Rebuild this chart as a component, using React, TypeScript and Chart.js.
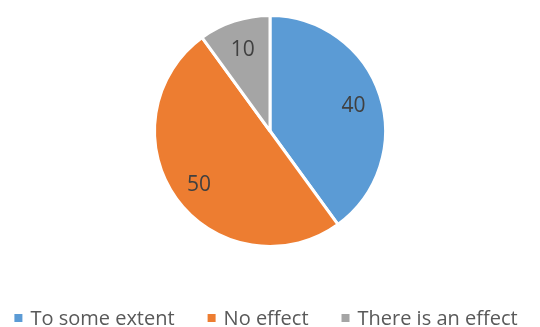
import React, { useEffect, useRef } from "react";
import { Chart, registerables } from "chart.js";

Chart.register(...registerables);

const categories = ["To some extent", "No effect", "There is an effect"];
const values = [40, 50, 10];
const colors = ["#5B9BD5", "#ED7D31", "#A5A5A5"];

const FONT = "'Open Sans', sans-serif";

const labelPlugin = {
  id: "sliceLabels",
  afterDatasetsDraw(chart: any) {
    const ctx = chart.ctx;
    const meta = chart.getDatasetMeta(0);
    ctx.save();
    ctx.font = `21px ${FONT}`;
    ctx.fillStyle = "#404040";
    ctx.textAlign = "center";
    ctx.textBaseline = "middle";
    meta.data.forEach((arc: any, i: number) => {
      const { x, y, startAngle, endAngle, outerRadius } = arc.getProps(
        ["x", "y", "startAngle", "endAngle", "outerRadius"],
        true
      );
      const mid = (startAngle + endAngle) / 2;
      const r = outerRadius * 0.76;
      ctx.fillText(String(chart.data.datasets[0].data[i]), x + Math.cos(mid) * r, y + Math.sin(mid) * r + 2);
    });
    ctx.restore();
  },
};

const legendPlugin = {
  id: "customLegend",
  afterDraw(chart: any) {
    const ctx = chart.ctx;
    ctx.save();
    ctx.font = `20px ${FONT}`;
    ctx.textBaseline = "middle";
    ctx.textAlign = "left";
    const box = 8;
    const gap = 8;
    const spacing = 33;
    const labels: string[] = chart.data.labels;
    const widths = labels.map((t) => box + gap + ctx.measureText(t).width);
    const total = widths.reduce((a, b) => a + b, 0) + spacing * (labels.length - 1);
    let x = chart.width / 2 - total / 2 - 4;
    const y = 318;
    labels.forEach((t, i) => {
      ctx.fillStyle = chart.data.datasets[0].backgroundColor[i];
      ctx.fillRect(x, y - box / 2, box, box);
      ctx.fillStyle = "#595959";
      ctx.fillText(t, x + box + gap, y + 1);
      x += widths[i] + spacing;
    });
    ctx.restore();
  },
};

export default function App() {
  const ref = useRef<HTMLCanvasElement>(null);
  useEffect(() => {
    if (!ref.current) return;
    const chart = new Chart(ref.current, {
      type: "pie",
      data: {
        labels: categories,
        datasets: [
          {
            data: values,
            backgroundColor: colors,
            borderColor: "#ffffff",
            borderWidth: 3,
          },
        ],
      },
      options: {
        animation: false,
        responsive: false,
        layout: { padding: { top: 14, bottom: 79, left: 0, right: 0 } },
        plugins: {
          legend: { display: false },
          tooltip: { enabled: false },
        },
      },
      plugins: [labelPlugin, legendPlugin],
    });
    return () => chart.destroy();
  }, []);
  return (
    <div style={{ position: "absolute", left: 0, top: 0, width: 540, height: 327, background: "#fff" }}>
      <canvas ref={ref} width={540} height={327} style={{ display: "block" }} />
    </div>
  );
}
